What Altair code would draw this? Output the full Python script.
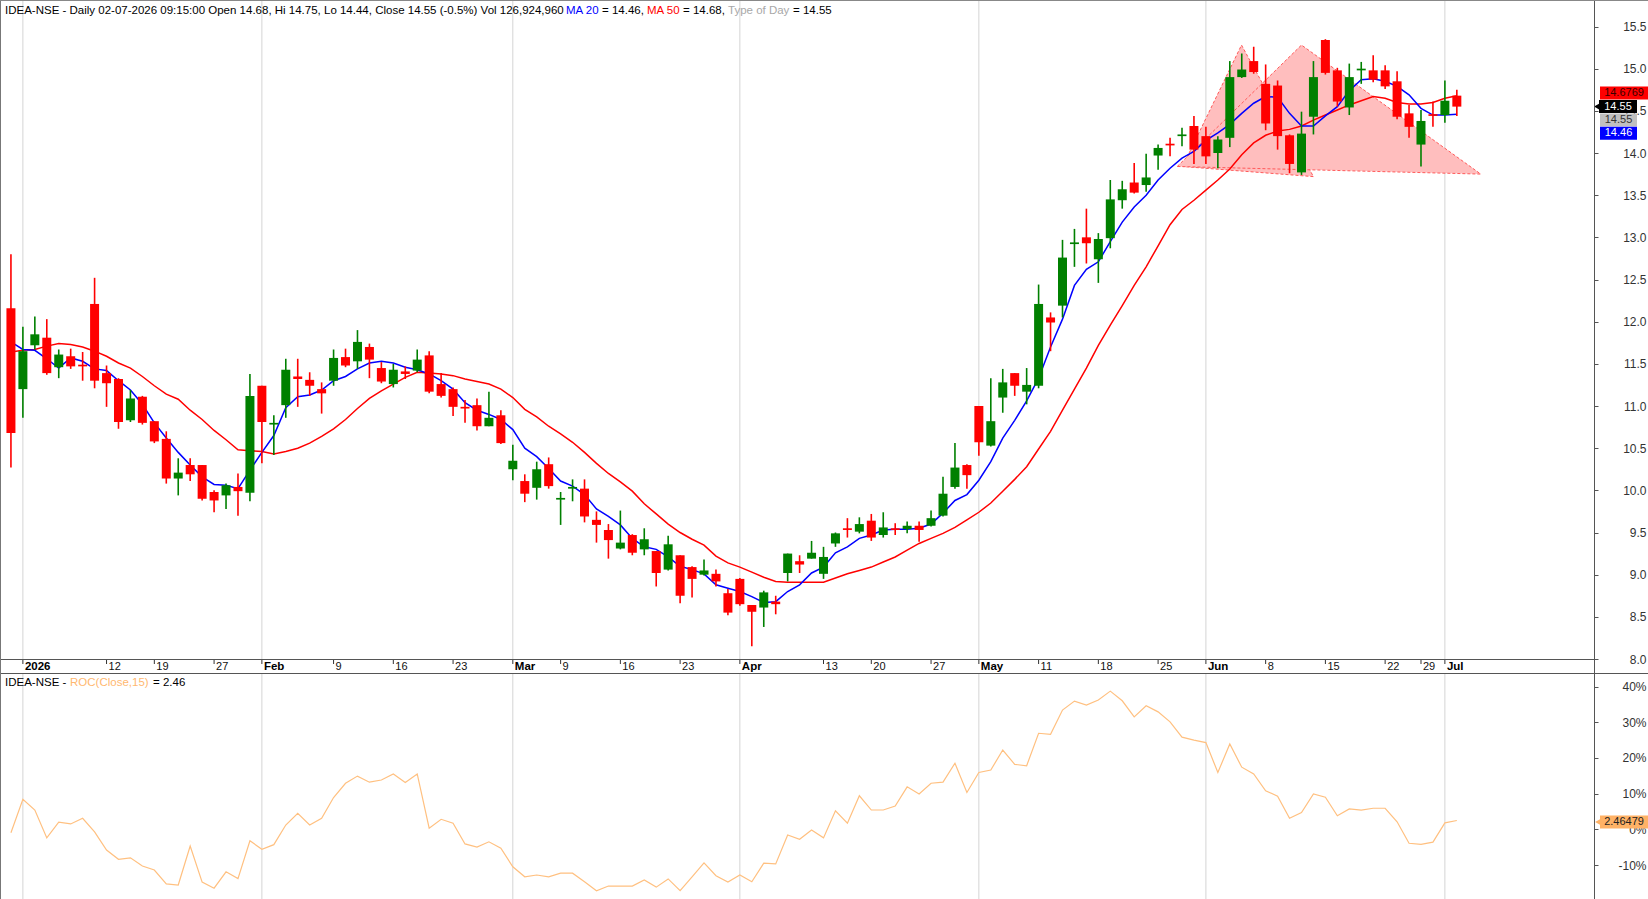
import altair as alt
import pandas as pd

FONT = "Liberation Sans"

# ---------------- data ----------------
IDX = list(range(-1, 121))

OPEN = [
    12.16, 11.20, 11.72, 11.81, 11.46, 11.59, 11.49, 12.21, 11.39, 11.32,
    10.83, 11.11, 10.82, 10.61, 10.14, 10.30, 10.30, 9.98, 9.94, 10.04,
    9.97, 11.24, 10.78, 11.01, 11.35, 11.31, 11.20, 11.30, 11.58, 11.53,
    11.70, 11.45, 11.26, 11.41, 11.42, 11.60, 11.26, 11.20, 10.99, 11.01,
    10.76, 10.89, 10.25, 10.11, 10.03, 10.31, 9.89, 10.02, 10.02, 9.65,
    9.53, 9.31, 9.47, 9.30, 9.28, 9.06, 9.23, 9.09, 9.00, 9.01,
    8.78, 8.95, 8.64, 8.61, 8.68, 9.02, 9.16, 9.19, 9.01, 9.37,
    9.55, 9.51, 9.64, 9.47, 9.55, 9.54, 9.58, 9.58, 9.70, 10.04,
    10.30, 11.00, 10.53, 11.10, 11.39, 11.17, 11.24, 12.05, 12.19, 12.92,
    13.00, 12.74, 12.99, 13.44, 13.65, 13.62, 13.97, 14.11, 14.20, 14.32,
    14.20, 14.00, 14.18, 14.90, 15.09, 14.82, 14.80, 14.21, 13.77, 14.43,
    15.34, 14.98, 14.54, 14.98, 14.98, 14.98, 14.85, 14.47, 14.10, 14.46,
    14.45, 14.68,
]
HIGH = [
    12.80, 11.94, 12.06, 12.03, 11.67, 11.68, 11.64, 12.52, 11.48, 11.33,
    11.19, 11.12, 10.82, 10.70, 10.38, 10.38, 10.30, 10.00, 10.08, 10.20,
    11.38, 11.24, 10.89, 11.56, 11.56, 11.40, 11.28, 11.67, 11.68, 11.90,
    11.74, 11.52, 11.50, 11.47, 11.67, 11.65, 11.39, 11.22, 11.07, 11.09,
    11.17, 10.95, 10.54, 10.19, 10.34, 10.39, 9.98, 10.13, 10.13, 9.75,
    9.60, 9.76, 9.48, 9.55, 9.28, 9.46, 9.23, 9.10, 9.18, 9.06,
    8.83, 8.96, 8.64, 8.81, 8.75, 9.25, 9.23, 9.40, 9.33, 9.50,
    9.67, 9.68, 9.72, 9.74, 9.61, 9.63, 9.63, 9.76, 10.16, 10.56,
    10.31, 11.00, 11.33, 11.44, 11.39, 11.45, 12.44, 12.11, 12.97, 13.10,
    13.34, 13.05, 13.68, 13.67, 13.88, 13.99, 14.10, 14.18, 14.30, 14.44,
    14.31, 14.20, 15.09, 15.18, 15.26, 15.05, 14.86, 14.22, 14.49, 15.09,
    15.35, 15.01, 15.06, 15.08, 15.16, 15.04, 14.97, 14.57, 14.51, 14.61,
    14.86, 14.75,
]
LOW = [
    10.27, 10.86, 11.67, 11.37, 11.33, 11.44, 11.30, 11.21, 10.99, 10.73,
    10.81, 10.78, 10.56, 10.08, 9.94, 10.11, 9.88, 9.74, 9.78, 9.70,
    9.87, 10.32, 10.42, 10.86, 10.99, 11.12, 10.91, 11.24, 11.46, 11.44,
    11.33, 11.27, 11.22, 11.32, 11.40, 11.15, 11.10, 10.88, 10.80, 10.71,
    10.76, 10.55, 10.12, 9.86, 9.89, 10.02, 9.59, 9.87, 9.62, 9.38,
    9.19, 9.30, 9.23, 9.23, 8.86, 9.05, 8.66, 8.73, 8.99, 8.86,
    8.52, 8.63, 8.15, 8.38, 8.53, 8.92, 9.02, 9.19, 8.95, 9.33,
    9.44, 9.49, 9.40, 9.44, 9.47, 9.49, 9.39, 9.57, 9.69, 10.02,
    10.02, 10.41, 10.52, 10.92, 11.12, 11.02, 11.21, 11.65, 12.05, 12.65,
    12.69, 12.46, 12.87, 13.34, 13.52, 13.54, 13.80, 13.96, 14.08, 13.87,
    13.87, 13.82, 14.07, 14.89, 14.94, 14.27, 14.04, 13.76, 13.74, 14.22,
    14.93, 14.55, 14.45, 14.82, 14.84, 14.76, 14.40, 14.18, 13.84, 14.31,
    14.36, 14.44,
]
CLOSE = [
    10.68, 11.65, 11.85, 11.39, 11.61, 11.47, 11.47, 11.30, 11.27, 10.81,
    11.09, 10.80, 10.58, 10.14, 10.21, 10.19, 9.90, 9.88, 10.06, 9.99,
    11.12, 10.81, 10.80, 11.43, 11.32, 11.24, 11.15, 11.57, 11.48, 11.76,
    11.55, 11.29, 11.43, 11.38, 11.55, 11.17, 11.12, 10.99, 10.97, 10.76,
    10.86, 10.56, 10.35, 9.96, 10.25, 10.05, 9.91, 10.04, 9.69, 9.59,
    9.41, 9.38, 9.26, 9.42, 9.02, 9.36, 8.75, 8.95, 9.05, 8.92,
    8.55, 8.65, 8.56, 8.79, 8.65, 9.25, 9.12, 9.26, 9.21, 9.49,
    9.53, 9.60, 9.44, 9.56, 9.53, 9.58, 9.53, 9.67, 9.96, 10.27,
    10.18, 10.57, 10.82, 11.28, 11.24, 11.25, 12.21, 11.99, 12.76, 12.94,
    12.93, 12.98, 13.45, 13.57, 13.53, 13.71, 14.06, 14.09, 14.22, 14.04,
    13.96, 14.16, 14.90, 14.99, 14.96, 14.35, 14.20, 13.87, 14.23, 14.90,
    14.95, 14.61, 14.90, 15.00, 14.87, 14.79, 14.43, 14.31, 14.38, 14.44,
    14.62, 14.55,
]
MA20 = [
    11.76, 11.67, 11.66, 11.56, 11.45, 11.57, 11.53, 11.44, 11.42, 11.30,
    11.19, 11.02, 10.80, 10.62, 10.45, 10.30, 10.16, 10.07, 10.06, 10.02,
    10.24, 10.45, 10.65, 10.98, 11.11, 11.13, 11.19, 11.30, 11.35, 11.44,
    11.51, 11.53, 11.51, 11.46, 11.43, 11.38, 11.30, 11.20, 11.04, 10.95,
    10.90, 10.84, 10.72, 10.50, 10.40, 10.26, 10.11, 10.05, 9.95, 9.78,
    9.69, 9.59, 9.43, 9.33, 9.30, 9.21, 9.10, 9.06, 9.01, 8.88,
    8.84, 8.80, 8.74, 8.67, 8.68, 8.80, 8.88, 9.02, 9.09, 9.26,
    9.33, 9.43, 9.47, 9.53, 9.54, 9.54, 9.55, 9.60, 9.73, 9.88,
    9.95, 10.12, 10.34, 10.62, 10.83, 11.06, 11.33, 11.70, 12.03, 12.43,
    12.62, 12.71, 12.95, 13.18, 13.36, 13.50, 13.68, 13.82, 13.94, 14.02,
    14.15, 14.24, 14.34, 14.47, 14.59, 14.67, 14.66, 14.47, 14.32, 14.32,
    14.44, 14.55, 14.74, 14.87, 14.88, 14.85, 14.79, 14.69, 14.53, 14.45,
    14.45, 14.46,
]
MA50 = [
    11.64, 11.66, 11.67, 11.71, 11.74, 11.73, 11.70, 11.65, 11.59, 11.51,
    11.45, 11.35, 11.24, 11.14, 11.08, 10.95, 10.84, 10.71, 10.60, 10.48,
    10.47, 10.46, 10.43, 10.46, 10.50, 10.56, 10.64, 10.73, 10.84, 10.97,
    11.09, 11.18, 11.26, 11.34, 11.40, 11.39, 11.38, 11.36, 11.32, 11.29,
    11.26, 11.20, 11.10, 10.96, 10.87, 10.76, 10.67, 10.57, 10.45, 10.32,
    10.20, 10.10, 9.99, 9.84, 9.72, 9.60, 9.50, 9.42, 9.35, 9.22,
    9.14, 9.09, 9.03, 8.97, 8.92, 8.91, 8.91, 8.91, 8.91, 8.96,
    9.01, 9.05, 9.09, 9.15, 9.21, 9.29, 9.37, 9.43, 9.49, 9.56,
    9.65, 9.74, 9.85, 9.99, 10.13, 10.28, 10.49, 10.70, 10.95, 11.20,
    11.45, 11.72, 11.96, 12.19, 12.43, 12.65, 12.90, 13.15, 13.33, 13.44,
    13.56, 13.68, 13.81, 13.98, 14.12, 14.21, 14.26, 14.28, 14.32, 14.39,
    14.45, 14.51, 14.57, 14.62, 14.67, 14.65, 14.60, 14.58, 14.58, 14.60,
    14.65, 14.68,
]
ROC = [
    -0.95, 8.4, 5.4, -2.4, 2.0, 1.5, 3.1, -0.7, -5.8, -8.4,
    -8.0, -10.3, -11.4, -15.3, -15.6, -4.7, -14.8, -16.5, -11.9, -13.8,
    -3.2, -5.6, -4.3, 1.2, 4.5, 1.2, 3.1, 8.9, 12.9, 14.9,
    13.2, 13.8, 15.5, 13.1, 15.5, 0.3, 2.8, 1.7, -4.1, -5.0,
    -3.5, -5.3, -10.5, -13.3, -12.8, -13.3, -12.3, -12.3, -14.7, -17.2,
    -15.9, -15.9, -15.9, -14.2, -16.2, -13.9, -17.2, -13.3, -9.4, -13.0,
    -14.8, -12.8, -14.7, -9.5, -9.7, -1.6, -2.8, -0.2, -2.4, 5.2,
    1.7, 9.4, 5.4, 5.4, 6.5, 11.9, 9.9, 12.9, 13.2, 18.5,
    10.3, 15.9, 16.6, 22.2, 18.2, 17.8, 26.9, 26.6, 33.4, 35.9,
    34.8, 36.2, 38.7, 36.0, 31.5, 34.6, 32.9, 30.1, 25.8, 25.0,
    24.3, 15.9, 23.9, 17.4, 15.5, 10.8, 9.3, 3.1, 4.7, 9.9,
    9.0, 3.8, 5.7, 5.4, 5.9, 5.9, 2.1, -3.9, -4.2, -3.6,
    1.8, 2.46,
]

DAY_IDX = [7, 11, 16, 26, 31, 36, 45, 50, 55, 67, 71, 76, 85, 90, 95, 104, 109, 114, 117]
DAY_TEXT = ["12", "19", "27", "9", "16", "23", "9", "16", "23", "13", "20", "27",
            "11", "18", "25", "8", "15", "22", "29"]
MONTH_IDX = [0, 20, 41, 60, 80, 99, 119]
MONTH_TEXT = ["2026", "Feb", "Mar", "Apr", "May", "Jun", "Jul"]

UPPER_TICKS = [8.0, 8.5, 9.0, 9.5, 10.0, 10.5, 11.0, 11.5, 12.0, 12.5,
               13.0, 13.5, 14.0, 14.5, 15.0, 15.5]
LOWER_TICKS = [-10, 0, 10, 20, 30, 40]

# pattern triangles drawn on the chart (vertex index position, price)
TRI_ID = ["a", "a", "a", "a", "b", "b", "b", "b"]
TRI_ORD = [0, 1, 2, 3, 0, 1, 2, 3]
TRI_X = [97.05, 101.98, 108.0, 97.05, 96.6, 107.0, 122.0, 96.6]
TRI_Y = [13.84, 15.28, 13.72, 13.84, 13.84, 15.28, 13.75, 13.84]

# ---------------- frames ----------------
candles = pd.DataFrame({"i": IDX, "open": OPEN, "high": HIGH, "low": LOW, "close": CLOSE})
candles["dir"] = ["up" if c >= o else "down" for o, c in zip(OPEN, CLOSE)]
ma = pd.DataFrame({"i": IDX, "ma20": MA20, "ma50": MA50})
roc = pd.DataFrame({"i": IDX, "roc": ROC})
tri = pd.DataFrame({"t": TRI_ID, "o": TRI_ORD, "x": TRI_X, "y": TRI_Y})
days = pd.DataFrame({"i": DAY_IDX, "lab": DAY_TEXT})
months = pd.DataFrame({"i": MONTH_IDX, "lab": MONTH_TEXT})

# ---------------- scales / axes ----------------
xs = alt.Scale(domain=[-1.497, 131.06], nice=False, zero=False)
yu = alt.Scale(domain=[8.0, 15.5], range=[659, 26.5], nice=False, zero=False)
yl = alt.Scale(domain=[-10, 40], range=[865, 686.5], nice=False, zero=False)

AXU = alt.Axis(orient="right", values=UPPER_TICKS, format=".1f", tickSize=4,
               tickColor="#555555", labelAlign="right", labelPadding=48,
               labelBaseline="middle", labelFont=FONT, labelFontSize=12,
               labelColor="#333333", domain=False, grid=False, title=None,
               labelOverlap=False, labelFlush=False)
AXL = alt.Axis(orient="right", values=LOWER_TICKS, labelExpr="datum.value + '%'",
               tickSize=4, tickColor="#555555", labelAlign="right", labelPadding=48,
               labelBaseline="middle", labelFont=FONT, labelFontSize=12,
               labelColor="#333333", domain=False, grid=False, title=None,
               labelOverlap=False, labelFlush=False)


def X(f):
    return alt.X(f, type="quantitative", scale=xs, axis=None)


def YU(f):
    return alt.Y(f, type="quantitative", scale=yu, axis=AXU)


def YL(f):
    return alt.Y(f, type="quantitative", scale=yl, axis=AXL)


COL = alt.Color("dir:N", scale=alt.Scale(domain=["up", "down"], range=["#008000", "#FF0000"]),
                legend=None)


def txt(text, x, y, color="#000000", size=11.5, weight="normal", align="left"):
    return alt.Chart(pd.DataFrame({"t": [text]})).mark_text(
        align=align, baseline="middle", font=FONT, fontSize=size, fontWeight=weight, color=color
    ).encode(x=alt.value(x), y=alt.value(y), text="t:N")


def hrule(x1, x2, y, color="#555555", w=1):
    return alt.Chart(pd.DataFrame({"a": [0]})).mark_rule(color=color, strokeWidth=w).encode(
        x=alt.value(x1), x2=alt.value(x2), y=alt.value(y))


def vrule(x, y1, y2, color="#555555", w=1):
    return alt.Chart(pd.DataFrame({"a": [0]})).mark_rule(color=color, strokeWidth=w).encode(
        x=alt.value(x), y=alt.value(y1), y2=alt.value(y2))


# ---------------- upper panel ----------------
tri_layer = alt.Chart(tri).mark_line(
    fill="#FFBEBE", stroke="#FF5A5A", strokeDash=[3, 2], strokeWidth=1
).encode(x=X("x"), y=YU("y"), detail="t:N", order="o:Q")

ma50_line = alt.Chart(ma).mark_line(color="#FF0000", strokeWidth=1.5).encode(x=X("i"), y=YU("ma50"))
ma20_line = alt.Chart(ma).mark_line(color="#0000FF", strokeWidth=1.5).encode(x=X("i"), y=YU("ma20"))

wicks = alt.Chart(candles).mark_rule(strokeWidth=1.6).encode(
    x=X("i"), y=YU("low"), y2="high", color=COL)
bodies = alt.Chart(candles).mark_bar(size=9).encode(
    x=X("i"), y=YU("open"), y2="close", color=COL)


def tag(value, text, bg, fg, x1, x2, shift, arrow=False, scale_y=YU):
    df = pd.DataFrame({"v": [value], "t": [text]})
    base = alt.Chart(df)
    box = base.mark_rect(color=bg, yOffset=shift - 6.5, y2Offset=shift + 6.5).encode(
        x=alt.value(x1), x2=alt.value(x2), y=scale_y("v"), y2="v")
    label = base.mark_text(font=FONT, fontSize=11, color=fg, align="center",
                           baseline="middle", dy=shift).encode(
        x=alt.value((x1 + x2) / 2), y=scale_y("v"), text="t:N")
    parts = [box, label]
    if arrow:
        parts.append(base.mark_point(shape="triangle-left", filled=True, size=45, color=bg,
                                     opacity=1, yOffset=shift).encode(
            x=alt.value(x1 - 2), y=scale_y("v")))
    return parts


tags_upper = []
tags_upper += tag(14.6769, "14.6769", "#FF0000", "#3A0000", 1600, 1648, -3)
tags_upper += tag(14.55, "14.55", "#000000", "#FFFFFF", 1599, 1637, 0, arrow=True)
tags_upper += tag(14.55, "14.55", "#C0C0C0", "#333333", 1600, 1637, 13.5)
tags_upper += tag(14.46, "14.46", "#0000FF", "#FFFFFF", 1600, 1637, 19)

upper = alt.layer(tri_layer, ma50_line, ma20_line, wicks, bodies, *tags_upper)

# ---------------- lower panel ----------------
roc_line = alt.Chart(roc).mark_line(color="#FFC080", strokeWidth=1.2).encode(x=X("i"), y=YL("roc"))
tags_lower = tag(2.46, "2.46479", "#FFB266", "#222222", 1600, 1648, 1.5, arrow=True, scale_y=YL)
lower = alt.layer(roc_line, *tags_lower)

# ---------------- decorations ----------------
grid_up = alt.Chart(months).mark_rule(color="#D4D4D4", strokeWidth=1).encode(
    x=X("i"), y=alt.value(0), y2=alt.value(659))
grid_lo = alt.Chart(months).mark_rule(color="#D4D4D4", strokeWidth=1).encode(
    x=X("i"), y=alt.value(674), y2=alt.value(899))

all_ticks = pd.concat([days, months])
tick_marks = alt.Chart(all_ticks).mark_rule(color="#333333", strokeWidth=1).encode(
    x=X("i"), y=alt.value(659), y2=alt.value(664))
day_labels = alt.Chart(days).mark_text(align="left", baseline="middle", dx=2, font=FONT,
                                        fontSize=11, color="#111111").encode(
    x=X("i"), y=alt.value(667), text="lab:N")
month_labels = alt.Chart(months).mark_text(align="left", baseline="middle", dx=2, font=FONT,
                                            fontSize=11.5, fontWeight="bold",
                                            color="#000000").encode(
    x=X("i"), y=alt.value(667), text="lab:N")

header = [
    txt("IDEA-NSE - Daily 02-07-2026 09:15:00 Open 14.68, Hi 14.75, Lo 14.44, "
        "Close 14.55 (-0.5%) Vol 126,924,960", 5, 11),
    txt("MA 20", 566, 11, "#0000FF"),
    txt("= 14.46,", 602, 11),
    txt("MA 50", 647, 11, "#FF0000"),
    txt("= 14.68,", 683, 11),
    txt("Type of Day", 728, 11, "#A8A8A8"),
    txt("= 14.55", 793, 11),
    txt("IDEA-NSE -", 5, 683),
    txt("ROC(Close,15)", 70, 683, "#FFB870"),
    txt("= 2.46", 153, 683),
]

frame = [
    hrule(0, 1594, 659.5, "#555555"),
    hrule(0, 1648, 673.5, "#555555"),
    vrule(1594.5, 0, 899, "#555555"),
    vrule(0.5, 0, 899, "#777777"),
    hrule(0, 1648, 0.5, "#888888"),
]

chart = alt.layer(
    grid_up, grid_lo, upper, lower, tick_marks, day_labels, month_labels, *frame, *header
).resolve_scale(y="independent").properties(
    width=1594, height=899, autosize="none",
    padding={"left": 0, "top": 0, "right": 54, "bottom": 0},
    background="#FFFFFF",
).configure_view(stroke=None)

chart.save("out.html", embed_options={"renderer": "svg", "actions": False})
